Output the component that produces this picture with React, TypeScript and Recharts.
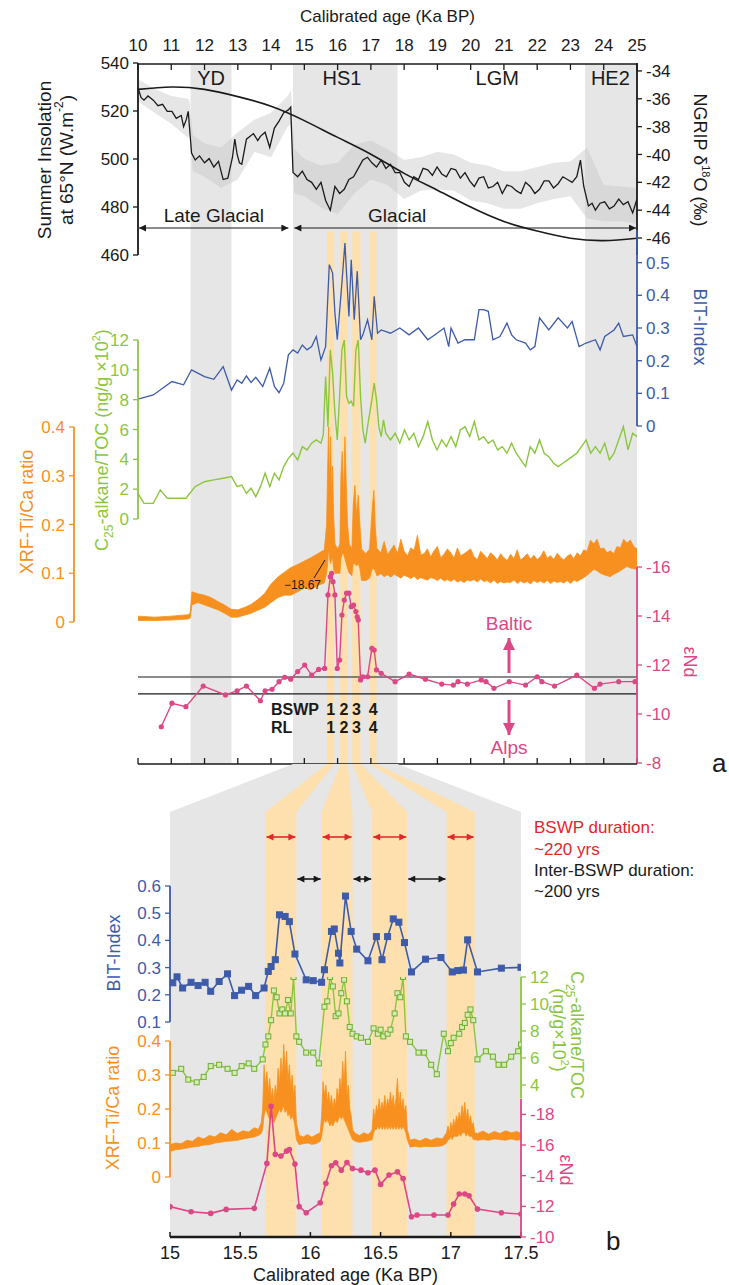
import React from 'react';
import { ComposedChart, Line, Area, XAxis, YAxis, ReferenceArea, ReferenceLine } from 'recharts';

const W = 729;
const H = 1285;
const FONT = "'Liberation Sans Narrow', 'Arial Narrow', 'Liberation Sans', Arial, sans-serif";

const BLACK = '#1a1a1a';
const BLUE = '#3d5ba8';
const GREEN = '#8cc63f';
const GREEN_DARK = '#6fae2e';
const ORANGE = '#f7901e';
const PINK = '#dc4785';
const RED = '#e3262b';
const GRAY_BAND = '#e6e6e7';
const ORANGE_BAND = '#fde0ad';
const NGRIP_GRAY = '#c8c8c8';

// ---------------- layout ----------------
const A_L = 138, A_R = 637, A_TOP = 65, A_BOT = 763;
const B_L = 170, B_R = 521, B_TOP = 812, B_BOT = 1236;
const ORANGE_AXIS_X = 74;

// ---------------- ticks / categories ----------------
const ageTicksA = [10, 11, 12, 13, 14, 15, 16, 17, 18, 19, 20, 21, 22, 23, 24, 25];
const ageTicksB = [15, 15.5, 16, 16.5, 17, 17.5];
const insolTicks = [460, 480, 500, 520, 540];
const ngripTicks = [-46, -44, -42, -40, -38, -36, -34];
const bitTicksA = [0, 0.1, 0.2, 0.3, 0.4, 0.5];
const greenTicksA = [0, 2, 4, 6, 8, 10, 12];
const xrfTicks = [0, 0.1, 0.2, 0.3, 0.4];
const ndTicksA = [-16, -14, -12, -10, -8];
const bitTicksB = [0.1, 0.2, 0.3, 0.4, 0.5, 0.6];
const greenTicksB = [4, 6, 8, 10, 12];
const ndTicksB = [-18, -16, -14, -12, -10];

const periodLabels = ['YD', 'HS1', 'LGM', 'HE2'];
const periodLabelAge = [12.2, 16.13, 20.8, 24.2];
const grayStart = [11.58, 14.66, 23.44];
const grayEnd = [12.81, 17.8, 25];
const bswpStart = [15.68, 16.08, 16.44, 16.97];
const bswpEnd = [15.9, 16.3, 16.69, 17.17];
const bswpLabels = ['1', '2', '3', '4'];
const ndLines = [-11.51, -10.82];

// ---------------- panel a data ----------------
const insolAge = [10, 11, 12, 13, 14, 15, 16, 17, 18, 19, 20, 21, 22, 23, 24, 25];
const insolVal = [529, 530, 529, 526, 522, 516, 509, 502, 494, 487, 480, 474, 470, 467, 466, 467];

const ngripAge = [10.00, 10.09, 10.18, 10.30, 10.46, 10.60, 10.74, 10.88, 11.02, 11.15,
  11.30, 11.37, 11.45, 11.51, 11.61, 11.72, 11.85, 12.00, 12.14, 12.28,
  12.42, 12.56, 12.70, 12.84, 12.91, 12.98, 13.05, 13.12, 13.26, 13.47,
  13.60, 13.68, 13.82, 13.96, 14.10, 14.24, 14.38, 14.52, 14.59, 14.66,
  14.80, 14.94, 15.08, 15.22, 15.36, 15.50, 15.64, 15.78, 15.92, 16.06,
  16.20, 16.34, 16.48, 16.62, 16.76, 16.90, 17.03, 17.17, 17.31, 17.45,
  17.59, 17.73, 17.87, 18.01, 18.15, 18.29, 18.43, 18.57, 18.71, 18.85,
  18.99, 19.13, 19.27, 19.41, 19.55, 19.69, 19.83, 19.97, 20.11, 20.25,
  20.39, 20.53, 20.67, 20.81, 20.95, 21.09, 21.23, 21.37, 21.51, 21.65,
  21.79, 21.93, 22.07, 22.21, 22.35, 22.49, 22.63, 22.77, 22.91, 23.05,
  23.19, 23.30, 23.40, 23.54, 23.65, 23.75, 23.89, 24.03, 24.17, 24.31,
  24.45, 24.59, 24.73, 24.87, 25.00];
const ngripVal = [-35.2, -35.9, -36.1, -35.8, -36.1, -36.5, -36.4, -36.9, -36.9, -37.4,
  -37.2, -38.0, -37.5, -36.9, -39.9, -40.4, -40.1, -40.6, -40.3, -40.9,
  -40.5, -41.8, -41.7, -40.2, -38.9, -40.0, -40.6, -40.7, -38.9, -38.5,
  -39.0, -38.7, -38.4, -39.5, -38.1, -37.6, -37.0, -36.8, -36.6, -41.3,
  -41.6, -41.2, -41.8, -42.0, -42.5, -42.0, -43.3, -44.0, -42.3, -42.8,
  -42.5, -41.8, -41.6, -41.0, -40.4, -40.2, -40.6, -40.9, -40.4, -41.0,
  -40.7, -41.3, -41.3, -42.0, -42.3, -41.6, -41.8, -41.0, -41.1, -41.5,
  -40.9, -41.4, -41.6, -41.0, -41.1, -41.7, -41.3, -41.9, -42.3, -41.7,
  -41.6, -42.4, -42.3, -42.0, -42.8, -42.2, -42.3, -42.6, -42.8, -42.0,
  -42.3, -42.8, -42.5, -41.9, -41.9, -42.4, -42.1, -41.6, -41.8, -42.0,
  -41.6, -40.4, -42.3, -43.7, -43.5, -44.0, -43.5, -43.4, -43.9, -43.7,
  -43.2, -43.6, -43.4, -44.2, -43.2];

const ngripBandAge = [10, 10.5, 11, 11.5, 11.55, 11.65, 12, 12.5, 13, 13.5, 14, 14.5, 14.6, 14.7, 15, 15.5, 16, 16.5, 17, 17.5,
  18, 18.5, 19, 19.5, 20, 20.5, 21, 21.5, 22, 22.5, 23, 23.5, 24, 24.5, 25];
const ngripBandLow = [-36.2, -37.0, -37.8, -38.8, -38.5, -41.2, -41.6, -42.4, -41.8, -39.8, -40.2, -38.0, -37.8, -42.8, -43.0, -43.8, -44.3, -42.8, -41.8, -42.2,
  -43.2, -42.6, -42.5, -42.6, -43.3, -43.5, -43.9, -43.9, -43.5, -43.2, -43.0, -44.6, -44.8, -44.8, -45.0];
const ngripBandHigh = [-34.6, -35.3, -35.8, -36.0, -36.2, -38.6, -39.2, -39.5, -38.4, -37.5, -37.0, -35.8, -35.4, -39.6, -40.3, -40.8, -40.6, -39.3, -39.0, -39.6,
  -40.4, -40.2, -39.8, -40.0, -40.6, -40.8, -41.2, -41.2, -40.9, -40.6, -40.5, -39.5, -42.2, -42.3, -42.4];

const bitAgeA = [10.00, 10.46, 11.02, 11.37, 11.61, 12.00, 12.28, 12.56, 12.81, 12.98,
  13.12, 13.26, 13.40, 13.54, 13.75, 13.96, 14.10, 14.24, 14.38, 14.52,
  14.66, 14.80, 14.94, 15.08, 15.22, 15.36, 15.50, 15.64, 15.75, 15.85,
  15.92, 15.99, 16.13, 16.22, 16.34, 16.41, 16.50, 16.59, 16.69, 16.76,
  16.90, 17.03, 17.10, 17.20, 17.31, 17.59, 17.87, 18.15, 18.43, 18.71,
  18.99, 19.20, 19.34, 19.41, 19.62, 19.83, 20.11, 20.25, 20.39, 20.53,
  20.67, 20.88, 21.09, 21.23, 21.37, 21.65, 21.79, 21.93, 22.07, 22.35,
  22.63, 22.91, 23.05, 23.26, 23.47, 23.75, 23.89, 24.03, 24.31, 24.45,
  24.59, 24.87, 25.00];
const bitValA = [0.082, 0.095, 0.136, 0.126, 0.172, 0.151, 0.143, 0.182, 0.110, 0.141,
  0.131, 0.153, 0.133, 0.149, 0.121, 0.177, 0.121, 0.102, 0.131, 0.218,
  0.233, 0.223, 0.248, 0.233, 0.243, 0.274, 0.202, 0.243, 0.494, 0.468,
  0.346, 0.264, 0.438, 0.560, 0.335, 0.509, 0.325, 0.474, 0.264, 0.279,
  0.325, 0.264, 0.397, 0.284, 0.294, 0.284, 0.300, 0.279, 0.300, 0.264,
  0.284, 0.300, 0.243, 0.300, 0.254, 0.264, 0.264, 0.356, 0.356, 0.351,
  0.264, 0.274, 0.315, 0.279, 0.264, 0.254, 0.233, 0.243, 0.331, 0.294,
  0.331, 0.300, 0.320, 0.243, 0.254, 0.264, 0.233, 0.274, 0.294, 0.315,
  0.274, 0.279, 0.243];

const greenAgeA = [10.00, 10.18, 10.46, 10.67, 10.88, 11.16, 11.44, 11.72, 12.00, 12.28,
  12.56, 12.81, 12.98, 13.12, 13.26, 13.40, 13.54, 13.68, 13.82, 13.96,
  14.10, 14.24, 14.38, 14.52, 14.66, 14.80, 14.94, 15.08, 15.22, 15.36,
  15.50, 15.57, 15.64, 15.71, 15.78, 15.85, 15.92, 15.99, 16.06, 16.13,
  16.20, 16.27, 16.34, 16.41, 16.48, 16.55, 16.62, 16.69, 16.76, 16.83,
  16.90, 17.03, 17.10, 17.17, 17.24, 17.31, 17.38, 17.45, 17.59, 17.73,
  17.87, 18.01, 18.15, 18.29, 18.43, 18.57, 18.71, 18.85, 18.99, 19.13,
  19.27, 19.41, 19.55, 19.69, 19.83, 19.97, 20.11, 20.25, 20.39, 20.53,
  20.67, 20.81, 20.95, 21.09, 21.23, 21.37, 21.51, 21.65, 21.79, 21.93,
  22.07, 22.21, 22.35, 22.49, 22.63, 22.77, 22.91, 23.05, 23.19, 23.33,
  23.47, 23.61, 23.75, 23.89, 24.03, 24.17, 24.31, 24.45, 24.59, 24.73,
  24.87, 25.00];
const greenValA = [1.72, 1.05, 1.05, 1.95, 1.39, 1.39, 1.39, 2.17, 2.50, 2.62,
  2.73, 2.84, 2.17, 2.28, 1.72, 2.06, 1.50, 2.17, 3.07, 2.17,
  3.07, 2.62, 3.51, 4.07, 4.41, 3.96, 4.85, 4.63, 5.08, 5.30,
  5.08, 5.64, 9.55, 6.19, 11.34, 9.78, 7.09, 5.30, 8.21, 11.34,
  12.0, 8.21, 7.76, 7.9, 7.54, 11.34, 12.0, 8.21, 5.97, 5.08,
  6.19, 7.99, 9.11, 7.99, 6.19, 5.52, 6.64, 5.75, 5.30, 5.75,
  5.08, 5.97, 5.30, 5.75, 4.85, 5.52, 6.53, 5.30, 4.63, 5.30,
  4.85, 5.52, 4.85, 5.97, 6.19, 5.52, 6.53, 5.30, 5.52, 5.08,
  5.30, 4.63, 4.85, 4.41, 5.08, 4.41, 3.96, 3.51, 4.85, 4.41,
  5.30, 4.41, 4.18, 3.74, 3.51, 3.74, 3.96, 4.18, 4.41, 4.85,
  5.30, 4.41, 4.85, 4.41, 5.08, 3.96, 4.41, 5.30, 6.19, 4.63,
  5.75, 5.52];

// XRF panel a: early part up to 17.18 ka
const xrfAgeA1 = [10.0, 10.5, 11.0, 11.5, 11.57, 11.62, 11.8, 12.0, 12.2, 12.4,
  12.6, 12.8, 13.0, 13.2, 13.4, 13.6, 13.8, 14.0, 14.2, 14.4,
  14.6, 14.8, 15.0, 15.2, 15.4, 15.6, 15.67, 15.70, 15.73, 15.76,
  15.79, 15.82, 15.85, 15.88, 15.92, 16.00, 16.07, 16.10, 16.14, 16.18,
  16.22, 16.26, 16.30, 16.35, 16.43, 16.47, 16.52, 16.57, 16.62, 16.67,
  16.72, 16.85, 16.96, 17.00, 17.05, 17.09, 17.13, 17.18];
const xrfLowA1 = [0.003, 0.003, 0.004, 0.006, 0.008, 0.035, 0.040, 0.035, 0.030, 0.025,
  0.018, 0.010, 0.010, 0.014, 0.018, 0.024, 0.030, 0.040, 0.050, 0.055,
  0.055, 0.062, 0.070, 0.066, 0.075, 0.080, 0.100, 0.120, 0.150, 0.130,
  0.120, 0.130, 0.130, 0.110, 0.100, 0.100, 0.100, 0.130, 0.140, 0.140,
  0.130, 0.120, 0.110, 0.100, 0.095, 0.120, 0.120, 0.115, 0.120, 0.110,
  0.085, 0.085, 0.090, 0.100, 0.110, 0.110, 0.105, 0.095];
const xrfHighA1 = [0.012, 0.010, 0.012, 0.015, 0.018, 0.062, 0.058, 0.055, 0.050, 0.042,
  0.035, 0.026, 0.025, 0.030, 0.036, 0.046, 0.058, 0.078, 0.092, 0.102,
  0.112, 0.118, 0.125, 0.132, 0.140, 0.148, 0.200, 0.310, 0.400, 0.280,
  0.380, 0.260, 0.320, 0.220, 0.160, 0.150, 0.160, 0.300, 0.350, 0.260,
  0.380, 0.280, 0.200, 0.160, 0.150, 0.240, 0.280, 0.220, 0.260, 0.200,
  0.150, 0.140, 0.150, 0.190, 0.240, 0.270, 0.200, 0.150];
// XRF panel a: glacial part 17.2 - 25 ka
const xrfAgeA2 = [17.2, 17.3, 17.4, 17.5, 17.6, 17.7, 17.8, 17.9, 18.0, 18.1,
  18.2, 18.3, 18.4, 18.5, 18.6, 18.7, 18.8, 18.9, 19.0, 19.1,
  19.2, 19.3, 19.4, 19.5, 19.6, 19.7, 19.8, 19.9, 20.0, 20.1,
  20.2, 20.3, 20.4, 20.5, 20.6, 20.7, 20.8, 20.9, 21.0, 21.1,
  21.2, 21.3, 21.4, 21.5, 21.6, 21.7, 21.8, 21.9, 22.0, 22.1,
  22.2, 22.3, 22.4, 22.5, 22.6, 22.7, 22.8, 22.9, 23.0, 23.1,
  23.2, 23.3, 23.4, 23.5, 23.6, 23.7, 23.8, 23.9, 24.0, 24.1,
  24.2, 24.3, 24.4, 24.5, 24.6, 24.7, 24.8, 24.9, 25.0];
const xrfLowA2 = [0.095, 0.099, 0.093, 0.097, 0.092, 0.098, 0.094, 0.090, 0.096, 0.093,
  0.089, 0.094, 0.087, 0.091, 0.088, 0.086, 0.091, 0.089, 0.085, 0.090,
  0.084, 0.087, 0.083, 0.088, 0.082, 0.085, 0.081, 0.086, 0.084, 0.087,
  0.082, 0.088, 0.083, 0.085, 0.080, 0.086, 0.079, 0.083, 0.080, 0.082,
  0.081, 0.086, 0.079, 0.084, 0.080, 0.083, 0.078, 0.085, 0.081, 0.084,
  0.080, 0.085, 0.079, 0.084, 0.081, 0.083, 0.080, 0.085, 0.079, 0.086,
  0.083, 0.087, 0.091, 0.096, 0.102, 0.108, 0.105, 0.100, 0.097, 0.095,
  0.093, 0.098, 0.101, 0.105, 0.110, 0.114, 0.111, 0.109, 0.108];
const xrfHighA2 = [0.150, 0.142, 0.165, 0.138, 0.148, 0.158, 0.140, 0.170, 0.145, 0.136,
  0.152, 0.147, 0.178, 0.138, 0.140, 0.150, 0.134, 0.146, 0.155, 0.132,
  0.139, 0.150, 0.142, 0.131, 0.152, 0.136, 0.140, 0.145, 0.150, 0.134,
  0.128, 0.145, 0.138, 0.130, 0.142, 0.136, 0.127, 0.140, 0.132, 0.126,
  0.139, 0.130, 0.148, 0.127, 0.133, 0.140, 0.129, 0.137, 0.128, 0.134,
  0.146, 0.131, 0.136, 0.128, 0.141, 0.133, 0.127, 0.135, 0.139, 0.130,
  0.142, 0.136, 0.148, 0.145, 0.168, 0.160, 0.170, 0.150, 0.152, 0.142,
  0.146, 0.140, 0.155, 0.152, 0.170, 0.162, 0.168, 0.155, 0.150];

const ndAgeA = [10.70, 11.02, 11.44, 11.96, 12.63, 12.98, 13.26, 13.68, 13.82, 14.03,
  14.24, 14.41, 14.59, 14.80, 15.01, 15.22, 15.43, 15.61, 15.71, 15.78,
  15.82, 15.86, 15.92, 15.99, 16.06, 16.13, 16.20, 16.27, 16.34, 16.41,
  16.48, 16.55, 16.59, 16.62, 16.69, 16.76, 16.90, 17.03, 17.10, 17.17,
  17.31, 17.73, 18.15, 18.64, 19.13, 19.48, 19.62, 19.90, 20.32, 20.46,
  20.70, 21.16, 21.65, 22.00, 22.14, 22.52, 23.19, 23.72, 23.89, 24.45,
  24.94];
const ndValA = [-9.48, -10.44, -10.30, -11.14, -10.78, -10.95, -11.14, -10.54, -10.95, -11.01,
  -11.32, -11.50, -11.42, -11.73, -12.0, -11.59, -11.82, -11.86, -14.86, -15.60,
  -15.74, -15.40, -14.86, -11.86, -12.20, -14.04, -14.65, -14.93, -14.93, -14.38,
  -14.45, -14.18, -13.97, -13.84, -11.39, -11.52, -11.52, -12.68, -12.61, -11.80,
  -11.66, -11.32, -11.63, -11.42, -11.22, -11.18, -11.32, -11.22, -11.39, -11.32,
  -11.05, -11.32, -11.18, -11.52, -11.32, -11.14, -11.59, -11.05, -11.22, -11.32,
  -11.32];

// ---------------- panel b data ----------------
const bitAgeB = [15.02, 15.05, 15.09, 15.15, 15.20, 15.25, 15.29, 15.35, 15.41, 15.46,
  15.51, 15.56, 15.61, 15.67, 15.70, 15.72, 15.75, 15.78, 15.82, 15.85,
  15.89, 15.97, 16.02, 16.08, 16.10, 16.15, 16.17, 16.20, 16.21, 16.25,
  16.29, 16.33, 16.41, 16.47, 16.51, 16.55, 16.59, 16.63, 16.67, 16.72,
  16.82, 16.93, 17.01, 17.05, 17.09, 17.12, 17.19, 17.36, 17.50];
const bitValB = [0.244, 0.266, 0.225, 0.246, 0.234, 0.246, 0.213, 0.249, 0.277, 0.197,
  0.217, 0.231, 0.197, 0.225, 0.286, 0.304, 0.329, 0.494, 0.488, 0.469,
  0.350, 0.255, 0.252, 0.246, 0.292, 0.433, 0.442, 0.353, 0.317, 0.563,
  0.433, 0.368, 0.325, 0.414, 0.329, 0.414, 0.479, 0.467, 0.392, 0.284,
  0.331, 0.337, 0.284, 0.289, 0.291, 0.402, 0.284, 0.298, 0.301];

const greenAgeB = [15.02, 15.08, 15.13, 15.19, 15.24, 15.29, 15.35, 15.41, 15.46, 15.51,
  15.56, 15.60, 15.66, 15.68, 15.70, 15.72, 15.74, 15.76, 15.78, 15.80,
  15.82, 15.84, 15.86, 15.88, 15.90, 15.92, 15.97, 16.02, 16.06, 16.10,
  16.12, 16.14, 16.16, 16.18, 16.20, 16.22, 16.24, 16.26, 16.28, 16.30,
  16.33, 16.36, 16.41, 16.45, 16.48, 16.50, 16.52, 16.55, 16.57, 16.60,
  16.62, 16.64, 16.66, 16.68, 16.71, 16.77, 16.81, 16.86, 16.90, 16.95,
  16.98, 17.00, 17.02, 17.06, 17.08, 17.10, 17.12, 17.14, 17.16, 17.19,
  17.25, 17.30, 17.34, 17.38, 17.43, 17.48, 17.50];
const greenValB = [4.9, 5.2, 4.4, 4.2, 4.6, 5.4, 5.5, 5.2, 4.9, 5.4,
  5.6, 5.2, 5.9, 7.0, 7.6, 8.8, 11.0, 10.5, 9.3, 9.6,
  9.3, 10.3, 9.3, 12.0, 7.6, 7.2, 6.4, 6.4, 5.6, 9.8,
  10.2, 12.0, 11.3, 9.1, 9.3, 10.8, 11.8, 10.2, 8.3, 7.8,
  7.6, 7.5, 7.2, 8.2, 7.8, 8.1, 7.6, 7.8, 8.1, 9.3,
  10.8, 10.5, 12.0, 7.6, 7.2, 6.4, 6.4, 5.5, 4.8, 7.8,
  6.5, 7.1, 7.5, 7.8, 8.3, 8.6, 9.2, 9.6, 8.8, 5.9,
  6.5, 6.1, 5.5, 5.5, 6.1, 6.5, 7.0];

// XRF panel b, by segment (background / BSWP1 / gap / BSWP2 / gap / BSWP3 / gap / BSWP4 / after)
const xrfAgeB0 = [15.00, 15.04, 15.08, 15.12, 15.16, 15.20, 15.24, 15.28, 15.32, 15.36, 15.40, 15.44, 15.48, 15.52, 15.56, 15.60, 15.63, 15.65];
const xrfLowB0 = [0.075, 0.080, 0.082, 0.085, 0.088, 0.090, 0.094, 0.095, 0.100, 0.102, 0.105, 0.106, 0.108, 0.112, 0.115, 0.118, 0.122, 0.128];
const xrfHighB0 = [0.095, 0.100, 0.098, 0.108, 0.105, 0.118, 0.112, 0.122, 0.118, 0.130, 0.124, 0.140, 0.128, 0.136, 0.132, 0.145, 0.140, 0.160];
const xrfAgeB1 = [15.66, 15.67, 15.68, 15.69, 15.70, 15.71, 15.72, 15.73, 15.74, 15.75, 15.76, 15.77, 15.78, 15.79, 15.80, 15.81, 15.82, 15.83, 15.84, 15.85, 15.86, 15.87, 15.88, 15.89, 15.90];
const xrfLowB1 = [0.14, 0.18, 0.20, 0.19, 0.18, 0.17, 0.18, 0.17, 0.16, 0.17, 0.18, 0.19, 0.20, 0.19, 0.20, 0.21, 0.19, 0.20, 0.18, 0.19, 0.17, 0.18, 0.17, 0.15, 0.11];
const xrfHighB1 = [0.20, 0.33, 0.27, 0.31, 0.25, 0.29, 0.23, 0.26, 0.22, 0.27, 0.24, 0.32, 0.27, 0.35, 0.29, 0.39, 0.31, 0.37, 0.28, 0.33, 0.26, 0.30, 0.24, 0.27, 0.16];
const xrfAgeB2 = [15.92, 15.95, 15.98, 16.01, 16.04, 16.07];
const xrfLowB2 = [0.095, 0.098, 0.100, 0.096, 0.098, 0.105];
const xrfHighB2 = [0.122, 0.118, 0.125, 0.117, 0.124, 0.130];
const xrfAgeB3 = [16.08, 16.09, 16.10, 16.11, 16.12, 16.13, 16.14, 16.15, 16.16, 16.17, 16.18, 16.19, 16.20, 16.21, 16.22, 16.23, 16.24, 16.25, 16.26, 16.27, 16.28, 16.29, 16.30];
const xrfLowB3 = [0.12, 0.15, 0.17, 0.16, 0.17, 0.16, 0.15, 0.16, 0.15, 0.16, 0.17, 0.16, 0.17, 0.18, 0.17, 0.18, 0.17, 0.16, 0.15, 0.14, 0.13, 0.12, 0.11];
const xrfHighB3 = [0.18, 0.28, 0.24, 0.27, 0.22, 0.25, 0.21, 0.24, 0.20, 0.23, 0.21, 0.26, 0.23, 0.29, 0.25, 0.34, 0.27, 0.37, 0.24, 0.27, 0.20, 0.18, 0.14];
const xrfAgeB4 = [16.32, 16.35, 16.38, 16.41, 16.43];
const xrfLowB4 = [0.105, 0.102, 0.104, 0.106, 0.108];
const xrfHighB4 = [0.128, 0.122, 0.130, 0.125, 0.132];
const xrfAgeB5 = [16.44, 16.45, 16.46, 16.47, 16.48, 16.49, 16.50, 16.51, 16.52, 16.53, 16.54, 16.55, 16.56, 16.57, 16.58, 16.59, 16.60, 16.61, 16.62, 16.63, 16.64, 16.65, 16.66, 16.67, 16.68, 16.69];
const xrfLowB5 = [0.11, 0.13, 0.14, 0.14, 0.15, 0.14, 0.15, 0.14, 0.15, 0.14, 0.15, 0.14, 0.15, 0.14, 0.15, 0.14, 0.15, 0.14, 0.15, 0.14, 0.15, 0.14, 0.15, 0.14, 0.13, 0.11];
const xrfHighB5 = [0.14, 0.20, 0.17, 0.21, 0.19, 0.23, 0.19, 0.22, 0.20, 0.24, 0.20, 0.23, 0.21, 0.25, 0.21, 0.24, 0.20, 0.23, 0.29, 0.21, 0.25, 0.20, 0.23, 0.19, 0.21, 0.14];
const xrfAgeB6 = [16.71, 16.74, 16.78, 16.82, 16.86, 16.90, 16.94];
const xrfLowB6 = [0.088, 0.090, 0.088, 0.090, 0.089, 0.090, 0.092];
const xrfHighB6 = [0.108, 0.112, 0.106, 0.114, 0.108, 0.115, 0.112];
const xrfAgeB7 = [16.97, 16.98, 16.99, 17.00, 17.01, 17.02, 17.03, 17.04, 17.05, 17.06, 17.07, 17.08, 17.09, 17.10, 17.11, 17.12, 17.13, 17.14, 17.15, 17.16, 17.17];
const xrfLowB7 = [0.10, 0.11, 0.11, 0.12, 0.11, 0.12, 0.12, 0.12, 0.12, 0.13, 0.12, 0.13, 0.13, 0.13, 0.12, 0.13, 0.12, 0.12, 0.12, 0.11, 0.11];
const xrfHighB7 = [0.13, 0.15, 0.13, 0.16, 0.14, 0.17, 0.15, 0.18, 0.16, 0.19, 0.17, 0.21, 0.18, 0.22, 0.17, 0.20, 0.16, 0.18, 0.15, 0.16, 0.13];
const xrfAgeB8 = [17.19, 17.23, 17.27, 17.31, 17.35, 17.39, 17.43, 17.47, 17.50];
const xrfLowB8 = [0.108, 0.110, 0.108, 0.112, 0.110, 0.108, 0.112, 0.108, 0.110];
const xrfHighB8 = [0.128, 0.135, 0.126, 0.134, 0.128, 0.136, 0.130, 0.134, 0.128];

const ndAgeB = [15.00, 15.15, 15.29, 15.40, 15.60, 15.69, 15.72, 15.75, 15.79, 15.83,
  15.85, 15.89, 15.92, 15.97, 16.07, 16.11, 16.15, 16.18, 16.22, 16.26,
  16.30, 16.36, 16.41, 16.46, 16.50, 16.56, 16.62, 16.66, 16.72, 16.76,
  16.88, 16.98, 17.02, 17.06, 17.10, 17.13, 17.19, 17.36, 17.50];
const ndValB = [-11.98, -11.65, -11.54, -11.80, -11.87, -14.80, -18.53, -15.39, -15.28, -15.60,
  -15.71, -14.76, -11.98, -11.58, -12.23, -13.50, -14.65, -14.84, -14.36, -14.86,
  -14.47, -14.36, -14.19, -14.36, -13.43, -14.04, -14.25, -13.82, -11.32, -11.43,
  -11.43, -11.43, -12.15, -12.80, -12.80, -12.69, -11.82, -11.58, -11.50];

// ---------------- helpers ----------------
const zip = (ages: number[], vals: number[]) => ages.map((age, i) => ({ age, v: vals[i] }));
const zipRange = (ages: number[], lo: number[], hi: number[]) => ages.map((age, i) => ({ age, r: [lo[i], hi[i]] }));

const xrfDataA = [...zipRange(xrfAgeA1, xrfLowA1, xrfHighA1), ...zipRange(xrfAgeA2, xrfLowA2, xrfHighA2)];
const xrfDataB = [
  ...zipRange(xrfAgeB0, xrfLowB0, xrfHighB0),
  ...zipRange(xrfAgeB1, xrfLowB1, xrfHighB1),
  ...zipRange(xrfAgeB2, xrfLowB2, xrfHighB2),
  ...zipRange(xrfAgeB3, xrfLowB3, xrfHighB3),
  ...zipRange(xrfAgeB4, xrfLowB4, xrfHighB4),
  ...zipRange(xrfAgeB5, xrfLowB5, xrfHighB5),
  ...zipRange(xrfAgeB6, xrfLowB6, xrfHighB6),
  ...zipRange(xrfAgeB7, xrfLowB7, xrfHighB7),
  ...zipRange(xrfAgeB8, xrfLowB8, xrfHighB8),
];

const ax = (k: number) => A_L + ((k - 10) * (A_R - A_L)) / 15;
const bx = (k: number) => B_L + ((k - 15) * (B_R - B_L)) / 2.5;
const bToA = (k: number) => 10 + ((bx(k) - A_L) * 15) / (A_R - A_L);
const ORANGE_X0 = 10 - ((A_L - ORANGE_AXIS_X) * 15) / (A_R - A_L);

// trapezoid (top edge t1..t2 at y=0, bottom edge b1..b2 at y=1) as a range area
function trapezoid(t1: number, t2: number, b1: number, b2: number) {
  const edges = [[t1, 0, t2, 0], [b1, 1, b2, 1], [t1, 0, b1, 1], [t2, 0, b2, 1]];
  const xs = Array.from(new Set([t1, t2, b1, b2])).sort((a, b) => a - b);
  return xs.map((x) => {
    const ys: number[] = [];
    edges.forEach(([x1, y1, x2, y2]) => {
      if (Math.abs(x2 - x1) < 1e-9) {
        if (Math.abs(x - x1) < 1e-9) ys.push(y1, y2);
      } else if (x >= Math.min(x1, x2) - 1e-9 && x <= Math.max(x1, x2) + 1e-9) {
        ys.push(y1 + ((x - x1) / (x2 - x1)) * (y2 - y1));
      }
    });
    return { age: x, r: [Math.min(...ys), Math.max(...ys)] };
  });
}

const layerStyle: React.CSSProperties = { position: 'absolute', left: 0, top: 0, width: W, height: H, pointerEvents: 'none' };

type AxisCfg = { side: 'left' | 'right'; width: number; ticks: number[]; color: string; fontSize?: number; tickSize?: number; tickMargin?: number };
type Box = { l: number; r: number; t: number; b: number };

function Frame(props: { box: Box; data: any[]; xDomain: [number, number]; yDomain: [number, number]; reversed?: boolean; axis?: AxisCfg; children?: React.ReactNode }) {
  const { box, data, xDomain, yDomain, reversed = false, axis, children } = props;
  const yl = axis && axis.side === 'left' ? axis.width : 0;
  const yr = axis && axis.side === 'right' ? axis.width : 0;
  const margin = { left: box.l - yl, right: W - box.r - yr, top: box.t, bottom: H - box.b };
  return (
    <div style={layerStyle}>
      <ComposedChart width={W} height={H} data={data} margin={margin}>
        <XAxis type="number" dataKey="age" domain={xDomain} allowDataOverflow hide />
        <YAxis
          yAxisId="y"
          type="number"
          domain={yDomain}
          reversed={reversed}
          allowDataOverflow
          hide={!axis}
          orientation={axis ? axis.side : 'left'}
          width={axis ? axis.width : 0}
          ticks={axis ? axis.ticks : undefined}
          interval={0}
          tick={axis ? { fill: axis.color, fontSize: axis.fontSize ?? 17 } : false}
          tickLine={axis ? { stroke: axis.color, strokeWidth: 1.3 } : false}
          axisLine={axis ? { stroke: axis.color, strokeWidth: 1.8 } : false}
          tickSize={axis?.tickSize ?? 5}
          tickMargin={axis?.tickMargin ?? 4}
        />
        {children}
      </ComposedChart>
    </div>
  );
}

const squareDot = (stroke: string, fill: string, size: number) => (p: any) => {
  const { cx, cy, index } = p;
  if (typeof cx !== 'number' || typeof cy !== 'number') return <g key={'n' + index} />;
  return <rect key={'s' + index} x={cx - size / 2} y={cy - size / 2} width={size} height={size} fill={fill} stroke={stroke} strokeWidth={1} />;
};

function PanelABackground() {
  const data = ageTicksA.map((age) => ({ age }));
  return (
    <div style={layerStyle}>
      <ComposedChart width={W} height={H} data={data} margin={{ left: A_L, right: W - A_R, top: A_TOP - 31, bottom: H - A_BOT - 1 }}>
        <XAxis xAxisId="tm" orientation="top" type="number" dataKey="age" domain={[10, 25]} allowDataOverflow ticks={ageTicksA} interval={0} mirror height={1} tickFormatter={() => ''} tickSize={6} axisLine={{ stroke: BLACK, strokeWidth: 1.6 }} tickLine={{ stroke: BLACK, strokeWidth: 1.3 }} />
        <XAxis xAxisId="tl" orientation="top" type="number" dataKey="age" domain={[10, 25]} allowDataOverflow ticks={ageTicksA} interval={0} height={30} axisLine={false} tickLine={false} tickSize={0} tickMargin={13} tick={{ fill: BLACK, fontSize: 17 }} />
        <XAxis xAxisId="bm" orientation="bottom" type="number" dataKey="age" domain={[10, 25]} allowDataOverflow ticks={ageTicksA} interval={0} mirror height={1} tickFormatter={() => ''} tickSize={6} axisLine={{ stroke: BLACK, strokeWidth: 1.6 }} tickLine={{ stroke: BLACK, strokeWidth: 1.3 }} />
        <YAxis yAxisId="px" hide type="number" domain={[A_TOP, A_BOT]} reversed allowDataOverflow />
        {grayStart.map((s, i) => (
          <ReferenceArea key={'g' + i} xAxisId="tm" yAxisId="px" x1={s} x2={grayEnd[i]} y1={A_TOP} y2={A_BOT} fill={GRAY_BAND} fillOpacity={1} stroke="none" />
        ))}
        {bswpStart.map((s, i) => (
          <ReferenceArea key={'o' + i} xAxisId="tm" yAxisId="px" x1={s} x2={bswpEnd[i]} y1={232} y2={A_BOT} fill={ORANGE_BAND} fillOpacity={1} stroke="none" />
        ))}
      </ComposedChart>
    </div>
  );
}

function PanelBBackground() {
  const data = ageTicksB.map((age) => ({ age }));
  return (
    <div style={layerStyle}>
      <ComposedChart width={W} height={H} data={data} margin={{ left: B_L, right: W - B_R, top: B_TOP, bottom: H - B_BOT - 1 - 30 }}>
        <XAxis xAxisId="bm" orientation="bottom" type="number" dataKey="age" domain={[15, 17.5]} allowDataOverflow ticks={ageTicksB} interval={0} mirror height={1} tickFormatter={() => ''} tickSize={5} axisLine={{ stroke: BLACK, strokeWidth: 2.6 }} tickLine={{ stroke: BLACK, strokeWidth: 1.5 }} />
        <XAxis xAxisId="bl" orientation="bottom" type="number" dataKey="age" domain={[15, 17.5]} allowDataOverflow ticks={ageTicksB} interval={0} height={30} axisLine={false} tickLine={false} tickSize={0} tickMargin={9} tick={{ fill: BLACK, fontSize: 18 }} />
        <YAxis yAxisId="px" hide type="number" domain={[B_TOP, B_BOT]} reversed allowDataOverflow />
        <ReferenceArea xAxisId="bm" yAxisId="px" x1={15} x2={17.5} y1={B_TOP} y2={B_BOT} fill={GRAY_BAND} fillOpacity={1} stroke="none" />
        {bswpStart.map((s, i) => (
          <ReferenceArea key={'o' + i} xAxisId="bm" yAxisId="px" x1={s} x2={bswpEnd[i]} y1={B_TOP} y2={B_BOT} fill={ORANGE_BAND} fillOpacity={1} stroke="none" />
        ))}
      </ComposedChart>
    </div>
  );
}

function Connector(props: { t1: number; t2: number; b1: number; b2: number; fill: string }) {
  const { t1, t2, b1, b2, fill } = props;
  const data = trapezoid(t1, t2, bToA(b1), bToA(b2));
  return (
    <Frame box={{ l: A_L, r: A_R, t: A_BOT + 1, b: B_TOP }} data={data} xDomain={[10, 25]} yDomain={[0, 1]} reversed>
      <Area yAxisId="y" type="linear" dataKey="r" stroke="none" fill={fill} fillOpacity={1} isAnimationActive={false} dot={false} activeDot={false} />
    </Frame>
  );
}

function Annotations() {
  const mid = (i: number) => (bswpStart[i] + bswpEnd[i]) / 2;
  return (
    <svg width={W} height={H} style={{ position: 'absolute', left: 0, top: 0 }} fontFamily={FONT}>
      <defs>
        <marker id="ah-k" viewBox="0 0 10 10" refX="10" refY="5" markerWidth="8" markerHeight="7" orient="auto-start-reverse" markerUnits="userSpaceOnUse">
          <path d="M0,0 L10,5 L0,10 z" fill={BLACK} />
        </marker>
        <marker id="ah-r" viewBox="0 0 10 10" refX="10" refY="5" markerWidth="8" markerHeight="7" orient="auto-start-reverse" markerUnits="userSpaceOnUse">
          <path d="M0,0 L10,5 L0,10 z" fill={RED} />
        </marker>
        <marker id="ah-p" viewBox="0 0 10 10" refX="10" refY="5" markerWidth="12" markerHeight="12" orient="auto-start-reverse" markerUnits="userSpaceOnUse">
          <path d="M0,0 L10,5 L0,10 z" fill={PINK} />
        </marker>
      </defs>

      {/* panel a */}
      <text x={ax(17.5)} y={22} textAnchor="middle" fontSize={17} fill={BLACK}>Calibrated age (Ka BP)</text>
      {periodLabels.map((t, i) => (
        <text key={t} x={ax(periodLabelAge[i])} y={85} textAnchor="middle" fontSize={20} fill={BLACK}>{t}</text>
      ))}
      <text x={ax(12.28)} y={222} textAnchor="middle" fontSize={19} fill={BLACK}>Late Glacial</text>
      <text x={ax(17.79)} y={222} textAnchor="middle" fontSize={19} fill={BLACK}>Glacial</text>
      <line x1={ax(10) + 1} x2={ax(14.52)} y1={228} y2={228} stroke={BLACK} strokeWidth={1.2} markerStart="url(#ah-k)" markerEnd="url(#ah-k)" />
      <line x1={ax(14.7)} x2={ax(25) - 1} y1={228} y2={228} stroke={BLACK} strokeWidth={1.2} markerStart="url(#ah-k)" markerEnd="url(#ah-k)" />

      <text transform="translate(44,160) rotate(-90)" textAnchor="middle" dominantBaseline="central" fontSize={19} fill={BLACK}>Summer Insolation</text>
      <text transform="translate(66,160) rotate(-90)" textAnchor="middle" dominantBaseline="central" fontSize={19} fill={BLACK}>
        at 65°N (W.m<tspan baselineShift="super" fontSize={12}>-2</tspan>)
      </text>
      <text transform="translate(700,160) rotate(90)" textAnchor="middle" dominantBaseline="central" fontSize={18} fill={BLACK}>
        NGRIP δ<tspan baselineShift="super" fontSize={11}>18</tspan>O (‰)
      </text>
      <text transform="translate(700,327) rotate(90)" textAnchor="middle" dominantBaseline="central" fontSize={18} fill={BLUE}>BIT-Index</text>
      <text transform="translate(102,440) rotate(-90)" textAnchor="middle" dominantBaseline="central" fontSize={18} fill={GREEN}>
        C<tspan baselineShift="sub" fontSize={12}>25</tspan>-alkane/TOC (ng/g ×10<tspan baselineShift="super" fontSize={11}>2</tspan>)
      </text>
      <text transform="translate(27,512) rotate(-90)" textAnchor="middle" dominantBaseline="central" fontSize={18} fill={ORANGE}>XRF-Ti/Ca ratio</text>
      <text transform="translate(690,662) rotate(90)" textAnchor="middle" dominantBaseline="central" fontSize={18} fill={PINK}>εNd</text>

      <text x={284} y={589} fontSize={12} fill={BLACK}>−18.67</text>
      <line x1={314} y1={578} x2={325} y2={560} stroke={BLACK} strokeWidth={1} />

      <text x={509} y={630} textAnchor="middle" fontSize={19} fill={PINK}>Baltic</text>
      <line x1={509} y1={673} x2={509} y2={638} stroke={PINK} strokeWidth={3} markerEnd="url(#ah-p)" />
      <line x1={509} y1={700} x2={509} y2={735} stroke={PINK} strokeWidth={3} markerEnd="url(#ah-p)" />
      <text x={509} y={754} textAnchor="middle" fontSize={19} fill={PINK}>Alps</text>

      <text x={271} y={715} fontSize={16} fontWeight="bold" fill={BLACK}>BSWP</text>
      <text x={271} y={733} fontSize={16} fontWeight="bold" fill={BLACK}>RL</text>
      {bswpLabels.map((t, i) => (
        <text key={'bs' + i} x={ax(mid(i))} y={715} textAnchor="middle" fontSize={16} fontWeight="bold" fill={BLACK}>{t}</text>
      ))}
      {bswpLabels.map((t, i) => (
        <text key={'rl' + i} x={ax(mid(i))} y={733} textAnchor="middle" fontSize={16} fontWeight="bold" fill={BLACK}>{t}</text>
      ))}
      <text x={712} y={772} fontSize={26} fill={BLACK}>a</text>

      {/* panel b */}
      {bswpStart.map((s, i) => (
        <line key={'ra' + i} x1={bx(s) + 1} x2={bx(bswpEnd[i]) - 1} y1={837} y2={837} stroke={RED} strokeWidth={1.6} markerStart="url(#ah-r)" markerEnd="url(#ah-r)" />
      ))}
      {bswpEnd.slice(0, 3).map((e, i) => (
        <line key={'ka' + i} x1={bx(e) + 1} x2={bx(bswpStart[i + 1]) - 1} y1={879} y2={879} stroke={BLACK} strokeWidth={1.6} markerStart="url(#ah-k)" markerEnd="url(#ah-k)" />
      ))}
      <text x={534} y={833} fontSize={17} fill={RED}>BSWP duration:</text>
      <text x={534} y={855} fontSize={17} fill={RED}>~220 yrs</text>
      <text x={534} y={876} fontSize={17} fill={BLACK}>Inter-BSWP duration:</text>
      <text x={534} y={897} fontSize={17} fill={BLACK}>~200 yrs</text>

      <text transform="translate(114,953) rotate(-90)" textAnchor="middle" dominantBaseline="central" fontSize={18} fill={BLUE}>BIT-Index</text>
      <text transform="translate(113,1108) rotate(-90)" textAnchor="middle" dominantBaseline="central" fontSize={18} fill={ORANGE}>XRF-Ti/Ca ratio</text>
      <text transform="translate(577,1035) rotate(90)" textAnchor="middle" dominantBaseline="central" fontSize={18} fill={GREEN}>
        C<tspan baselineShift="sub" fontSize={12}>25</tspan>-alkane/TOC
      </text>
      <text transform="translate(559,1030) rotate(90)" textAnchor="middle" dominantBaseline="central" fontSize={18} fill={GREEN}>
        (ng/g×10<tspan baselineShift="super" fontSize={11}>2</tspan>)
      </text>
      <text transform="translate(566,1170) rotate(90)" textAnchor="middle" dominantBaseline="central" fontSize={18} fill={PINK}>εNd</text>
      <text x={606} y={1250} fontSize={26} fill={BLACK}>b</text>
      <text x={bx(16.25)} y={1281} textAnchor="middle" fontSize={18} fill={BLACK}>Calibrated age (Ka BP)</text>
    </svg>
  );
}

export default function App() {
  const boxIns: Box = { l: A_L, r: A_R, t: 63, b: 255 };
  return (
    <div style={{ position: 'absolute', left: 0, top: 0, width: W, height: H, background: '#ffffff', fontFamily: FONT, overflow: 'hidden' }}>
      <PanelABackground />
      <Connector t1={grayStart[1]} t2={grayEnd[1]} b1={15} b2={17.5} fill={GRAY_BAND} />
      {bswpStart.map((s, i) => (
        <Connector key={'c' + i} t1={s} t2={bswpEnd[i]} b1={s} b2={bswpEnd[i]} fill={ORANGE_BAND} />
      ))}
      <PanelBBackground />

      {/* NGRIP noise band */}
      <Frame box={boxIns} data={zipRange(ngripBandAge, ngripBandLow, ngripBandHigh)} xDomain={[10, 25]} yDomain={[-47.22, -33.43]}>
        <Area yAxisId="y" type="linear" dataKey="r" stroke="none" fill={NGRIP_GRAY} fillOpacity={0.45} isAnimationActive={false} dot={false} activeDot={false} />
      </Frame>
      {/* insolation */}
      <Frame box={boxIns} data={zip(insolAge, insolVal)} xDomain={[10, 25]} yDomain={[460, 540]} axis={{ side: 'left', width: 40, ticks: insolTicks, color: BLACK }}>
        <Line yAxisId="y" type="natural" dataKey="v" stroke={BLACK} strokeWidth={1.6} dot={false} activeDot={false} isAnimationActive={false} />
      </Frame>
      {/* NGRIP */}
      <Frame box={boxIns} data={zip(ngripAge, ngripVal)} xDomain={[10, 25]} yDomain={[-47.22, -33.43]} axis={{ side: 'right', width: 44, ticks: ngripTicks, color: BLACK }}>
        <Line yAxisId="y" type="linear" dataKey="v" stroke={BLACK} strokeWidth={1.3} dot={false} activeDot={false} isAnimationActive={false} />
      </Frame>
      {/* BIT a */}
      <Frame box={{ l: A_L, r: A_R, t: 230, b: 426 }} data={zip(bitAgeA, bitValA)} xDomain={[10, 25]} yDomain={[0, 0.6]} axis={{ side: 'right', width: 44, ticks: bitTicksA, color: BLUE }}>
        <Line yAxisId="y" type="linear" dataKey="v" stroke={BLUE} strokeWidth={1.3} dot={false} activeDot={false} isAnimationActive={false} />
      </Frame>
      {/* C25 a */}
      <Frame box={{ l: A_L, r: A_R, t: 340, b: 519 }} data={zip(greenAgeA, greenValA)} xDomain={[10, 25]} yDomain={[0, 12]} axis={{ side: 'left', width: 34, ticks: greenTicksA, color: GREEN }}>
        <Line yAxisId="y" type="linear" dataKey="v" stroke={GREEN} strokeWidth={1.4} dot={false} activeDot={false} isAnimationActive={false} />
      </Frame>
      {/* XRF a */}
      <Frame box={{ l: ORANGE_AXIS_X, r: A_R, t: 427, b: 622 }} data={xrfDataA} xDomain={[ORANGE_X0, 25]} yDomain={[0, 0.4]} axis={{ side: 'left', width: 40, ticks: xrfTicks, color: ORANGE }}>
        <Area yAxisId="y" type="linear" dataKey="r" stroke={ORANGE} strokeWidth={0.8} fill={ORANGE} fillOpacity={1} isAnimationActive={false} dot={false} activeDot={false} />
      </Frame>
      {/* eNd a */}
      <Frame box={{ l: A_L, r: A_R, t: 567, b: 763 }} data={zip(ndAgeA, ndValA)} xDomain={[10, 25]} yDomain={[-16, -8]} reversed axis={{ side: 'right', width: 36, ticks: ndTicksA, color: PINK }}>
        {ndLines.map((v, i) => (
          <ReferenceLine key={'nl' + i} yAxisId="y" y={v} stroke={BLACK} strokeWidth={1.2} />
        ))}
        <Line yAxisId="y" type="linear" dataKey="v" stroke={PINK} strokeWidth={1.4} dot={{ r: 2.6, fill: PINK, stroke: PINK, strokeWidth: 0 }} activeDot={false} isAnimationActive={false} />
      </Frame>

      {/* BIT b */}
      <Frame box={{ l: B_L, r: B_R, t: 886, b: 1022 }} data={zip(bitAgeB, bitValB)} xDomain={[15, 17.5]} yDomain={[0.1, 0.6]} axis={{ side: 'left', width: 40, ticks: bitTicksB, color: BLUE }}>
        <Line yAxisId="y" type="linear" dataKey="v" stroke={BLUE} strokeWidth={1.6} dot={squareDot(BLUE, BLUE, 6)} activeDot={false} isAnimationActive={false} />
      </Frame>
      {/* C25 b */}
      <Frame box={{ l: B_L, r: B_R, t: 977, b: 1098.5 }} data={zip(greenAgeB, greenValB)} xDomain={[15, 17.5]} yDomain={[3, 12]} axis={{ side: 'right', width: 30, ticks: greenTicksB, color: GREEN }}>
        <Line yAxisId="y" type="linear" dataKey="v" stroke={GREEN} strokeWidth={1.4} dot={squareDot(GREEN_DARK, '#d4ebb4', 5)} activeDot={false} isAnimationActive={false} />
      </Frame>
      {/* XRF b */}
      <Frame box={{ l: B_L, r: B_R, t: 1041, b: 1177 }} data={xrfDataB} xDomain={[15, 17.5]} yDomain={[0, 0.4]} axis={{ side: 'left', width: 40, ticks: xrfTicks, color: ORANGE }}>
        <Area yAxisId="y" type="linear" dataKey="r" stroke={ORANGE} strokeWidth={0.8} fill={ORANGE} fillOpacity={1} isAnimationActive={false} dot={false} activeDot={false} />
      </Frame>
      {/* eNd b */}
      <Frame box={{ l: B_L, r: B_R, t: 1099, b: 1237 }} data={zip(ndAgeB, ndValB)} xDomain={[15, 17.5]} yDomain={[-19, -10]} reversed axis={{ side: 'right', width: 36, ticks: ndTicksB, color: PINK }}>
        <Line yAxisId="y" type="linear" dataKey="v" stroke={PINK} strokeWidth={1.6} dot={{ r: 2.8, fill: PINK, stroke: PINK, strokeWidth: 0 }} activeDot={false} isAnimationActive={false} />
      </Frame>

      <Annotations />
    </div>
  );
}
